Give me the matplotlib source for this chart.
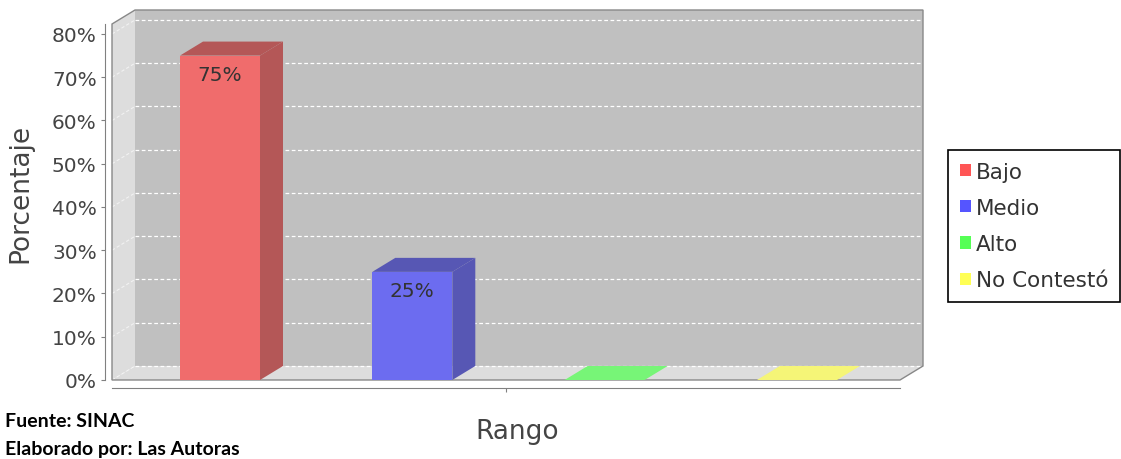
import matplotlib
matplotlib.use("Agg")
import matplotlib.pyplot as plt
from matplotlib.patches import Polygon, Patch

categorias = ["Bajo", "Medio", "Alto", "No Contestó"]
porcentajes = [75, 25, 0, 0]
etiquetas = ["75%", "25%", "", ""]
yticks = [0, 10, 20, 30, 40, 50, 60, 70, 80]

legend_colors = ["#FF5555", "#5555FF", "#55FF55", "#FFFF55"]
front_colors = ["#F06C6C", "#6C6CF0", "#77F577", "#F5F577"]
side_colors = ["#B45757", "#5757B4", "#57B457", "#B4B457"]

W, H = 1121, 460
fig = plt.figure(figsize=(W / 100, H / 100), dpi=100)
ax = fig.add_axes([112 / W, 1 - 381 / H, (900 - 112) / W, (381 - 25) / H])
ax.set_facecolor("none")

xmin, xmax = -0.5616, 3.536
ymax = 82.3
ax.set_xlim(xmin, xmax)
ax.set_ylim(0, ymax)

# depth of the 3D effect, in data units (23 px right, 14 px up)
DX = 23 / (788 / (xmax - xmin))
DY = 14 / (356 / ymax)

# walls and floor
ax.add_patch(Polygon([(xmin, 0), (xmin + DX, DY), (xmin + DX, ymax + DY), (xmin, ymax)],
                     closed=True, fc="#DDDDDD", ec="none", clip_on=False, zorder=0))
ax.add_patch(Polygon([(xmin + DX, DY), (xmax + DX, DY), (xmax + DX, ymax + DY), (xmin + DX, ymax + DY)],
                     closed=True, fc="#C0C0C0", ec="none", clip_on=False, zorder=0))
ax.add_patch(Polygon([(xmin, 0), (xmax, 0), (xmax + DX, DY), (xmin + DX, DY)],
                     closed=True, fc="#DDDDDD", ec="none", clip_on=False, zorder=0.5))

# gridlines
for v in yticks:
    ax.plot([xmin + DX, xmax + DX], [v + DY, v + DY], color="white", lw=0.9,
            ls=(0, (3, 2)), clip_on=False, zorder=1)
    ax.plot([xmin, xmin + DX], [v, v + DY], color="white", lw=0.8,
            ls=(0, (3, 2)), alpha=0.6, clip_on=False, zorder=1)

# outline of the box
ax.add_patch(Polygon([(xmin, 0), (xmin, ymax), (xmin + DX, ymax + DY), (xmax + DX, ymax + DY),
                      (xmax + DX, DY), (xmax, 0)],
                     closed=True, fc="none", ec="#888888", lw=1, clip_on=False, zorder=1.5))

# bars
x = list(range(len(categorias)))
w = 0.416
ax.bar(x, porcentajes, width=w, color=front_colors, zorder=3)
for i, v in enumerate(porcentajes):
    l, r = x[i] - w / 2, x[i] + w / 2
    top_col = side_colors[i] if v > 0 else front_colors[i]
    ax.add_patch(Polygon([(l, v), (l + DX, v + DY), (r + DX, v + DY), (r, v)],
                         closed=True, fc=top_col, ec="none", clip_on=False, zorder=3))
    if v > 0:
        ax.add_patch(Polygon([(r, 0), (r + DX, DY), (r + DX, v + DY), (r, v)],
                             closed=True, fc=side_colors[i], ec="none", clip_on=False, zorder=3))
    if etiquetas[i]:
        ax.annotate(etiquetas[i], (x[i], v), xytext=(0, -19), textcoords="offset pixels",
                    ha="center", va="center", fontsize=14.5, color="#333333", zorder=4)

# axes
for s in ["top", "right"]:
    ax.spines[s].set_visible(False)
ax.spines["left"].set_position(("outward", 5))
ax.spines["bottom"].set_position(("outward", 6))
ax.spines["left"].set_color("#808080")
ax.spines["bottom"].set_color("#808080")
ax.set_yticks(yticks)
ax.set_yticklabels([f"{t}%" for t in yticks])
ax.set_xticks([(xmin + xmax) / 2])
ax.set_xticklabels([""])
ax.tick_params(axis="both", color="#808080", length=3, labelsize=14.5,
               labelcolor="#444444", pad=3)
ax.set_ylabel("Porcentaje", fontsize=19, color="#444444")
ax.yaxis.set_label_coords((20 - 112) / 788, (381 - 193) / 356)
ax.set_xlabel("Rango", fontsize=19, color="#444444")
ax.xaxis.set_label_coords((517 - 112) / 788, -(432 - 381) / 356)
ax.xaxis.label.set_va("center")
ax.yaxis.label.set_va("center")

# legend
handles = [Patch(fc=c, ec="none") for c in legend_colors]
leg = fig.legend(handles, categorias, loc="upper left", bbox_to_anchor=(948 / W, 1 - 151 / H),
                 bbox_transform=fig.transFigure, borderaxespad=0, fontsize=15.5,
                 handlelength=0.5, handleheight=0.5, handletextpad=0.25, labelspacing=0.75,
                 borderpad=0.55, fancybox=False, framealpha=1, edgecolor="black")
leg.get_frame().set_linewidth(1.2)
for t in leg.get_texts():
    t.set_color("#333333")

fig.text(5 / W, 1 - 422 / H, "Fuente: SINAC", fontsize=14, fontweight="bold",
         family=["Lato", "DejaVu Sans"], va="center", ha="left")
fig.text(5 / W, 1 - 450 / H, "Elaborado por: Las Autoras", fontsize=14, fontweight="bold",
         family=["Lato", "DejaVu Sans"], va="center", ha="left")

fig.savefig("out.png", dpi=100)
